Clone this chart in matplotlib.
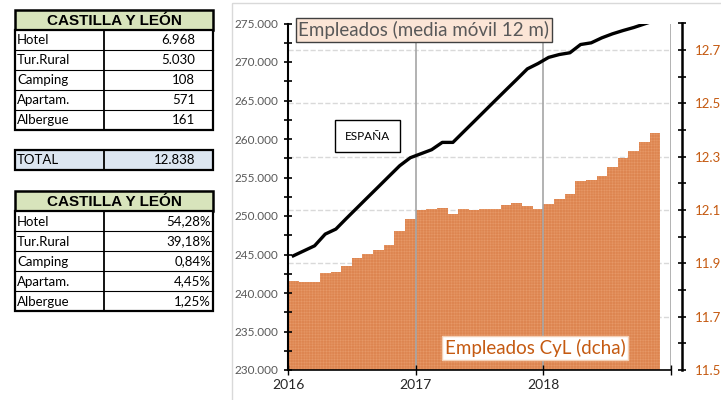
import matplotlib.pyplot as plt
from matplotlib.patches import Rectangle
from matplotlib.ticker import FuncFormatter, MultipleLocator, FixedLocator

# Data
tipos = ['Hotel', 'Tur.Rural', 'Camping', 'Apartam.', 'Albergue']
empleados_tipo = [6968, 5030, 108, 571, 161]

# monthly data, Jan 2016 onwards
meses = [2016 + (i + 0.5) / 12 for i in range(35)]
espana = [244830, 245480, 246130, 247650, 248300, 249700, 251070, 252440, 253800,
          255170, 256530, 257570, 258090, 258610, 259560, 259560, 260930, 262290,
          263660, 265030, 266390, 267740, 269110, 269800, 270600, 270970, 271200,
          272270, 272490, 273140, 273660, 274090, 274480, 274940, 275400]
cyl = [11.835, 11.830, 11.830, 11.863, 11.866, 11.889, 11.919, 11.936, 11.951,
       11.969, 12.021, 12.067, 12.101, 12.103, 12.109, 12.085, 12.104, 12.101,
       12.103, 12.104, 12.119, 12.126, 12.116, 12.105, 12.122, 12.140, 12.161,
       12.209, 12.212, 12.229, 12.260, 12.294, 12.320, 12.354, 12.390]
anios = [2016, 2017, 2018, 2019]

plt.rcParams['font.family'] = ['Lato', 'DejaVu Sans']
plt.rcParams['hatch.linewidth'] = 0.3

W_PX, H_PX = 721, 400
fig = plt.figure(figsize=(W_PX / 100, H_PX / 100), dpi=100)

# plot area in pixels
x0, x1, ytop, ybot = 288, 671, 23.5, 370
ax = fig.add_axes([x0 / W_PX, 1 - ybot / H_PX, (x1 - x0) / W_PX, (ybot - ytop) / H_PX])
ax2 = ax.twinx()
ax.set_zorder(ax2.get_zorder() + 1)
ax.patch.set_visible(False)

# bars CyL (right axis)
ax2.bar(meses, cyl, width=1 / 12, color='#dd8550', edgecolor='#e89c6c',
        linewidth=0, hatch='++++++', zorder=2)
ax2.set_ylim(11.5, 12.8)
ax2.yaxis.set_major_locator(FixedLocator([11.5, 11.7, 11.9, 12.1, 12.3, 12.5, 12.7]))
ax2.yaxis.set_minor_locator(MultipleLocator(0.1))
ax2.yaxis.set_major_formatter(FuncFormatter(lambda v, p: f"{v:.1f}"))
ax2.set_axisbelow(True)
ax2.grid(axis='y', which='major', color='#d9d9d9', linestyle='--', linewidth=1)
ax2.spines['right'].set_position(('outward', 8))
ax2.spines['right'].set_linewidth(1.8)
for s in ['top', 'left', 'bottom']:
    ax2.spines[s].set_visible(False)
ax2.tick_params(axis='y', which='both', direction='inout', length=6, width=1.2,
                labelcolor='#c55a11', labelsize=9.5, pad=6)

# Spain line (left axis)
for a in anios[1:]:
    ax.axvline(a, color='#a6a6a6', linewidth=1.2, zorder=1)
ax.plot(meses, espana, color='black', linewidth=2.4, zorder=3)
ax.set_xlim(2016, 2019)
ax.set_ylim(230000, 275000)
ax.yaxis.set_major_locator(MultipleLocator(5000))
ax.yaxis.set_minor_locator(MultipleLocator(2500))
ax.yaxis.set_major_formatter(FuncFormatter(lambda v, p: f"{int(v):,}".replace(',', '.')))
ax.set_xticks(anios)
ax.set_xticklabels([str(a) for a in anios[:-1]] + [''])
for s in ['top', 'right']:
    ax.spines[s].set_visible(False)
ax.spines['left'].set_linewidth(1.5)
ax.spines['bottom'].set_linewidth(1.2)
ax.tick_params(axis='y', which='both', direction='inout', length=6, width=1.2,
               labelcolor='#595959', labelsize=8.5, pad=4)
ax.tick_params(axis='x', direction='inout', length=7, width=1, labelsize=10,
               labelcolor='#262626', pad=3)

# overlay in pixel coordinates for tables and labels
ov = fig.add_axes([0, 0, 1, 1])
ov.set_xlim(0, W_PX)
ov.set_ylim(H_PX, 0)
ov.axis('off')
ov.set_zorder(10)

# chart frame
ov.add_patch(Rectangle((232, 3), 600, 420, fill=False, edgecolor='#d9d9d9', linewidth=1))

ov.text(424, 30, 'Empleados (media móvil 12 m)', ha='center', va='center', fontsize=13.5,
        color='#595959', bbox=dict(boxstyle='square,pad=0.15', facecolor='#fbe5d6',
                                    edgecolor='#404040', linewidth=1))
ov.text(367.5, 136, 'ESPAÑA', ha='center', va='center', fontsize=8.5, color='black',
        bbox=dict(boxstyle='square,pad=0.85', facecolor='white', edgecolor='black', linewidth=1))
ov.text(535, 348, 'Empleados CyL (dcha)', ha='center', va='center', fontsize=13.5,
        color='#c55a11', bbox=dict(boxstyle='square,pad=0.15', facecolor='white',
                                    edgecolor='#f4d0b5', linewidth=1))


def tabla(y0, valores, xr):
    tx0, tx1, xm, rh = 15, 213, 104, 20
    ov.add_patch(Rectangle((tx0, y0), tx1 - tx0, rh, facecolor='#d8e4bc',
                           edgecolor='black', linewidth=1.8))
    ov.text((tx0 + tx1) / 2, y0 + rh / 2 + 1, 'CASTILLA Y LEÓN', ha='center', va='center',
            fontsize=11, fontweight='bold', family='Liberation Sans')
    yr = y0 + rh
    ov.add_patch(Rectangle((tx0, yr), tx1 - tx0, rh * len(tipos), facecolor='white',
                           edgecolor='black', linewidth=1.6))
    ov.plot([xm, xm], [yr, yr + rh * len(tipos)], color='black', linewidth=1.3)
    for i, (t, v) in enumerate(zip(tipos, valores)):
        yy = yr + i * rh
        if i > 0:
            ov.plot([tx0, tx1], [yy, yy], color='black', linewidth=0.8)
        ov.text(tx0 + 2, yy + rh / 2 + 0.5, t, ha='left', va='center', fontsize=9.5)
        ov.text(xr, yy + rh / 2 + 0.5, v, ha='right', va='center', fontsize=9.5)


total = sum(empleados_tipo)
tabla(10, [f"{v:,}".replace(',', '.') for v in empleados_tipo], 195)

# total row
ov.add_patch(Rectangle((15, 150), 198, 20, facecolor='#dce6f1', edgecolor='black', linewidth=1.6))
ov.plot([104, 104], [150, 170], color='black', linewidth=1.3)
ov.text(17, 160.5, 'TOTAL', ha='left', va='center', fontsize=9.5)
ov.text(195, 160.5, f"{total:,}".replace(',', '.'), ha='right', va='center', fontsize=9.5)

tabla(191, [f"{100 * v / total:.2f}%".replace('.', ',') for v in empleados_tipo], 211)

fig.savefig('out.png', dpi=100)
